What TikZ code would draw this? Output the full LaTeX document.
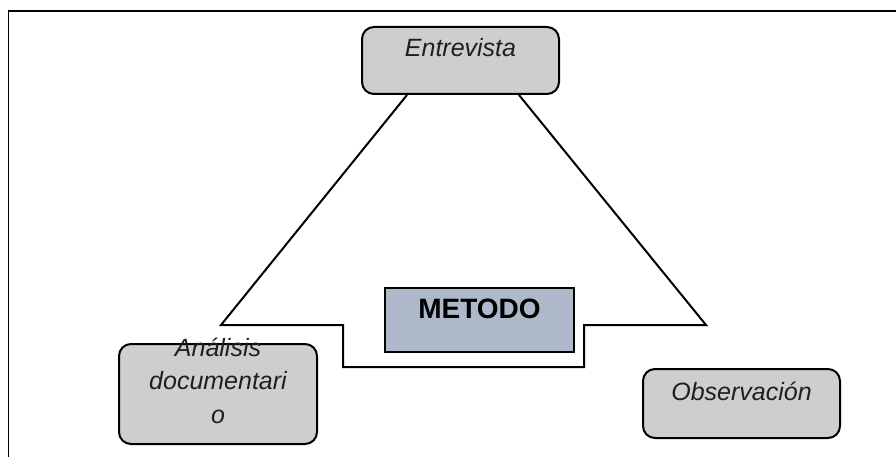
\documentclass[tikz,border=0pt]{standalone}
\usepackage{fontspec}
\setmainfont{Liberation Sans}
\usetikzlibrary{calc}
\definecolor{boxgray}{HTML}{CFCDCD}
\definecolor{boxblue}{HTML}{ADB9CA}
\begin{document}
\begin{tikzpicture}[
			x=1pt,y=-1pt,
			every node/.style={
				inner sep=0pt,
				align=center,
				text=black!88,
			},
			technique/.style={
				rectangle,
				rounded corners=12pt,
				draw,
				line width=2pt,
				fill=boxgray,
				minimum width=197pt,
				anchor=north,
				font=\fontsize{25}{34}\selectfont\itshape,
			},
			method/.style={
				rectangle,
				draw,
				line width=2pt,
				fill=boxblue,
				minimum width=189pt,
				anchor=north,
				font=\fontsize{28}{34}\selectfont\bfseries,
				text=black,
			}]
		\useasboundingbox (0,0) rectangle (896,457);
		\draw[line width=1.8pt] (896,11) -- (8.5,11) -- (8.5,457);
		\node[technique,text height=30pt,text depth=37pt](entrevista) at (460.5,26) {Entrevista};
		\node[technique,text height=31pt,text depth=38pt](observacion) at (741.5,368) {Observación};
		\node[technique,minimum width=198pt,minimum height=100pt](analisis) at (218,343) {};
		\node[font=\fontsize{25}{33.5}\selectfont\itshape,anchor=base](analisistxt) at (218,423) {Análisis\\documentari\\o};
		\node[method,text height=30pt,text depth=34pt](metodo) at (479.5,287) {METODO};
		% triangle around the method
		\coordinate(topleft)  at ($(entrevista.south west)+(46,0)$);
		\coordinate(topright) at ($(entrevista.south east)+(-41,0)$);
		\coordinate(apexleft)  at (221,325);
		\coordinate(apexright) at (706,325);
		\draw[line width=2pt,line join=miter]
			(topleft) -- (apexleft) -- (343,325) -- (343,367)
			-- (584,367) -- (584,325) -- (apexright) -- (topright);
	\end{tikzpicture}
\end{document}
